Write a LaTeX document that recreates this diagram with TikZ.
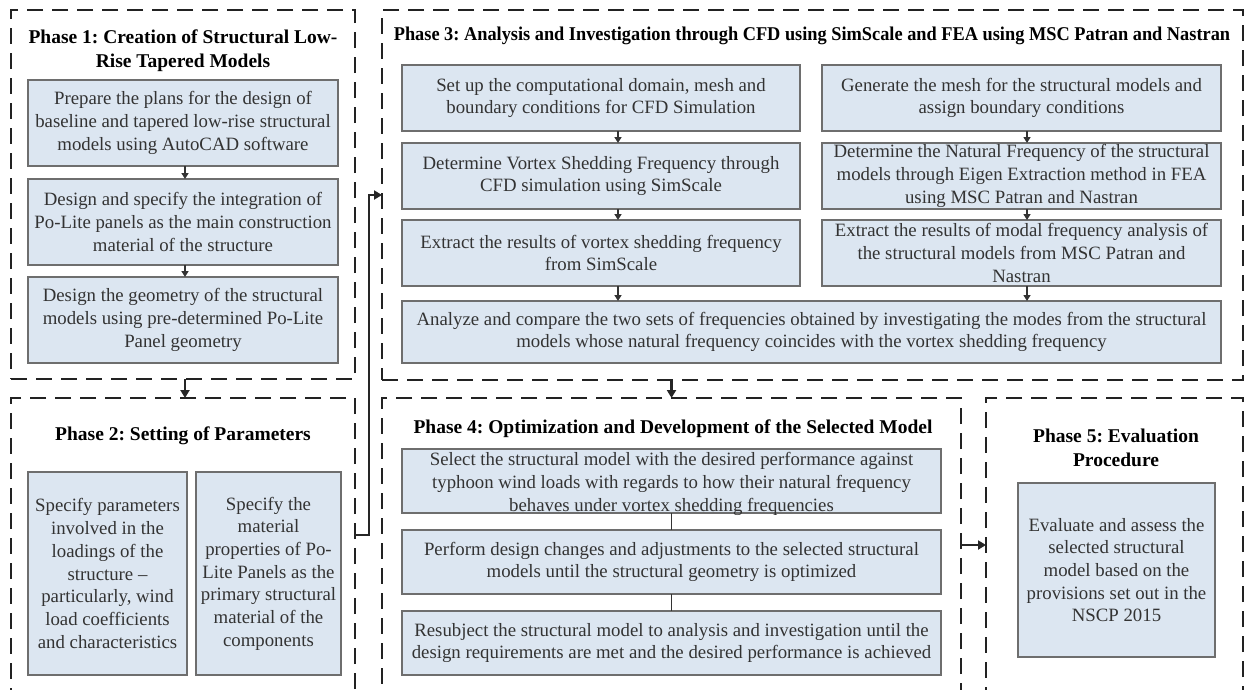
\documentclass[tikz,border=0pt]{standalone}
\usepackage{fontspec}
\setmainfont{Liberation Serif}
\usetikzlibrary{arrows.meta,calc}
\definecolor{boxfill}{HTML}{DCE6F1}
\definecolor{boxline}{HTML}{6E6E6E}
\definecolor{txt}{HTML}{333333}
\definecolor{dashc}{HTML}{222222}
\frenchspacing
\begin{document}
\begin{tikzpicture}[x=1pt,y=-1pt,
  phase/.style={draw=dashc, line width=2.6pt, dash pattern=on 16pt off 9pt, inner sep=0pt, outer sep=0pt},
  procbox/.style={draw=boxline, line width=1.1pt, fill=boxfill, text=txt, align=center, inner sep=0pt, outer sep=0pt, font=\fontsize{18.8}{22.7}\selectfont},
  boxtext/.style={text=txt, align=center, inner sep=0pt, font=\fontsize{18.8}{22.7}\selectfont},
  ptitle/.style={font=\bfseries\fontsize{19.5}{24}\selectfont, align=center, text=black},
  flow/.style={draw=black!85, line width=2.2pt, -{Triangle[length=8pt,width=9pt]}},
  smallarrow/.style={draw=black!80, line width=1.6pt, -{Triangle[length=6pt,width=7pt]}},
  thinline/.style={draw=black!80, line width=0.8pt}]
\useasboundingbox (0,0) rectangle (1245,689);
\clip (0,0) rectangle (1245,689);
\fill[white] (0,0) rectangle (1245,689);

% phase frames
\node[phase, minimum width=344pt, minimum height=369pt] (ph1) at (183,194.5) {};
\node[phase, minimum width=344pt, minimum height=322pt] (ph2) at (183,559) {};
\node[phase, minimum width=861pt, minimum height=370pt] (ph3) at (812.5,195) {};
\node[phase, minimum width=579pt, minimum height=322pt] (ph4) at (671.5,559) {};
\node[phase, minimum width=257pt, minimum height=322pt] (ph5) at (1114.5,559) {};

% titles
\node[ptitle] (t1) at (183,51) {Phase 1: Creation of Structural Low-\\Rise Tapered Models};
\node[ptitle] (t2) at (183,436) {Phase 2: Setting of Parameters};
\node[ptitle] (t3) at (812,36) {\scalebox{0.94}[1]{Phase 3: Analysis and Investigation through CFD using SimScale and FEA using MSC Patran and Nastran}};
\node[ptitle] (t4) at (673,429) {Phase 4: Optimization and Development of the Selected Model};
\node[ptitle] (t5) at (1116,448) {Phase 5: Evaluation\\Procedure};

% phase 1
\node[procbox, minimum width=310pt, minimum height=86pt] (p1a) at (183,123) {Prepare the plans for the design of\\baseline and tapered low-rise structural\\models using AutoCAD software};
\node[procbox, minimum width=310pt, minimum height=86pt] (p1b) at (183,222) {Design and specify the integration of\\Po-Lite panels as the main construction\\material of the structure};
\node[procbox, minimum width=310pt, minimum height=86pt] (p1c) at (183,320) {Design the geometry of the structural\\models using pre-determined Po-Lite\\Panel geometry};

% phase 2
\node[procbox, minimum width=159pt, minimum height=203pt] (p2a) at (107.5,573.5) {Specify parameters\\involved in the\\loadings of the\\structure --\\particularly, wind\\load coefficients\\and characteristics};
\node[procbox, minimum width=145pt, minimum height=203pt] (p2b) at (268.5,573.5) {Specify the\\material\\properties of Po-\\Lite Panels as the\\primary structural\\material of the\\components};

% phase 3
\node[procbox, minimum width=398pt, minimum height=66pt] (p3l1) at (601,98) {Set up the computational domain, mesh and\\boundary conditions for CFD Simulation};
\node[procbox, minimum width=398pt, minimum height=66pt] (p3l2) at (601,176) {Determine Vortex Shedding Frequency through\\CFD simulation using SimScale};
\node[procbox, minimum width=398pt, minimum height=66pt] (p3l3) at (601,253) {Extract the results of vortex shedding frequency\\from SimScale};
\node[procbox, minimum width=399pt, minimum height=66pt] (p3r1) at (1021.5,98) {Generate the mesh for the structural models and\\assign boundary conditions};
\node[procbox, minimum width=399pt, minimum height=66pt] (p3r2) at (1021.5,176) {Determine the Natural Frequency of the structural\\models through Eigen Extraction method in FEA\\using MSC Patran and Nastran};
\node[procbox, minimum width=399pt, minimum height=66pt] (p3r3) at (1021.5,253) {Extract the results of modal frequency analysis of\\the structural models from MSC Patran and\\Nastran};
\node[procbox, minimum width=819pt, minimum height=62pt] (p3big) at (811.5,332) {Analyze and compare the two sets of frequencies obtained by investigating the modes from the structural\\models whose natural frequency coincides with the vortex shedding frequency};

% phase 4
\node[procbox, minimum width=539pt, minimum height=64pt] (p4a) at (671.5,481) {};
\node[boxtext] (p4atext) at (671.5,484) {Select the structural model with the desired performance against\\typhoon wind loads with regards to how their natural frequency\\behaves under vortex shedding frequencies};
\node[procbox, minimum width=539pt, minimum height=64pt] (p4b) at (671.5,562) {Perform design changes and adjustments to the selected structural\\models until the structural geometry is optimized};
\node[procbox, minimum width=539pt, minimum height=64pt] (p4c) at (671.5,643) {Resubject the structural model to analysis and investigation until the\\design requirements are met and the desired performance is achieved};

% phase 5
\node[procbox, minimum width=197pt, minimum height=174pt] (p5a) at (1116.5,570) {Evaluate and assess the\\selected structural\\model based on the\\provisions set out in the\\NSCP 2015};

% inner connectors
\draw[smallarrow] ([xshift=2pt]p1a.south) -- ([xshift=2pt]p1b.north);
\draw[smallarrow] ([xshift=2pt]p1b.south) -- ([xshift=2pt]p1c.north);
\draw[smallarrow] ([xshift=17pt]p3l1.south) -- ([xshift=17pt]p3l2.north);
\draw[smallarrow] ([xshift=17pt]p3l2.south) -- ([xshift=17pt]p3l3.north);
\draw[smallarrow] ([xshift=17pt]p3l3.south) -- ([xshift=17pt]p3l3.south |- p3big.north);
\draw[smallarrow] ([xshift=5.5pt]p3r1.south) -- ([xshift=5.5pt]p3r2.north);
\draw[smallarrow] ([xshift=5.5pt]p3r2.south) -- ([xshift=5.5pt]p3r3.north);
\draw[smallarrow] ([xshift=5.5pt]p3r3.south) -- ([xshift=5.5pt]p3r3.south |- p3big.north);
\draw[thinline] (p4a.south) -- (p4b.north);
\draw[thinline] (p4b.south) -- (p4c.north);

% phase connectors
\draw[flow] ([xshift=2pt]ph1.south) -- ([xshift=2pt]ph2.north);
\draw[flow] ([yshift=24pt]ph2.east) -- ++(14,0) |- (ph3.west);
\draw[flow] (ph3.south -| ph4.north) -- (ph4.north);
\draw[flow] ([yshift=14pt]ph4.east) -- ([yshift=14pt]ph5.west);
\end{tikzpicture}
\end{document}
